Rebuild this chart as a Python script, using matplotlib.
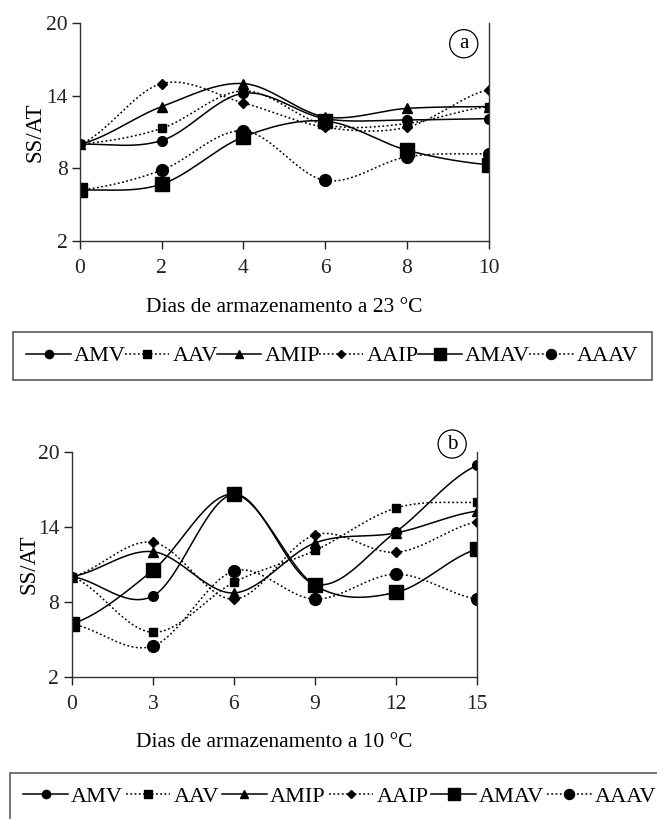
import numpy as np
import matplotlib
matplotlib.use("Agg")
import matplotlib.pyplot as plt
from matplotlib.lines import Line2D

plt.rcParams['font.family'] = ['Liberation Serif', 'DejaVu Serif']

series_names = ["AMV", "AAV", "AMIP", "AAIP", "AMAV", "AAAV"]

days_a = [0, 2, 4, 6, 8, 10]
amv_a = [10.0, 10.3, 14.2, 12.1, 12.0, 12.1]
aav_a = [10.0, 11.3, 14.4, 11.6, 11.7, 13.1]
amip_a = [10.0, 13.1, 15.0, 12.25, 12.95, 13.1]
aaip_a = [10.0, 15.0, 13.4, 11.4, 11.4, 14.5]
amav_a = [6.2, 6.7, 10.6, 11.9, 9.5, 8.3]
aaav_a = [6.2, 7.85, 11.1, 7.0, 8.95, 9.2]

days_b = [0, 3, 6, 9, 12, 15]
amv_b = [10.0, 8.45, 16.6, 9.4, 13.6, 18.9]
aav_b = [10.0, 5.55, 9.55, 12.1, 15.5, 15.95]
amip_b = [10.0, 12.0, 8.7, 12.7, 13.5, 15.25]
aaip_b = [10.0, 12.75, 8.2, 13.35, 11.95, 14.4]
amav_b = [6.2, 10.5, 16.6, 9.3, 8.75, 12.2]
aaav_b = [6.2, 4.45, 10.45, 8.2, 10.2, 8.2]

yticks = [2, 8, 14, 20]

styles = {
    "AMV": dict(ls='-', marker='o', ms=7),
    "AAV": dict(ls=(0, (1.2, 1.6)), marker='s', ms=6),
    "AMIP": dict(ls='-', marker='^', ms=7),
    "AAIP": dict(ls=(0, (1.2, 1.6)), marker='D', ms=5),
    "AMAV": dict(ls='-', marker='s', ms=9.5),
    "AAAV": dict(ls=(0, (1.2, 1.6)), marker='o', ms=8.5),
}


def smooth(x, y, n=30):
    x = np.asarray(x, float)
    y = np.asarray(y, float)
    px = np.concatenate([[2 * x[0] - x[1]], x, [2 * x[-1] - x[-2]]])
    py = np.concatenate([[y[0]], y, [y[-1]]])
    xs, ys = [], []
    for i in range(1, len(px) - 2):
        t = np.linspace(0, 1, n)
        for arr, out in ((px, xs), (py, ys)):
            p0, p1, p2, p3 = arr[i - 1], arr[i], arr[i + 1], arr[i + 2]
            c1 = p1 + (p2 - p0) / 6
            c2 = p2 - (p3 - p1) / 6
            out.append((1 - t) ** 3 * p1 + 3 * (1 - t) ** 2 * t * c1
                       + 3 * (1 - t) * t ** 2 * c2 + t ** 3 * p2)
    return np.concatenate(xs), np.concatenate(ys)


fig = plt.figure(figsize=(6.57, 8.19), dpi=100)


def panel(rect, days, data, xlabel, tag, tagpos, ylab_x):
    ax = fig.add_axes(rect)
    for name, vals in zip(series_names, data):
        st = styles[name]
        sx, sy = smooth(days, vals)
        ax.plot(sx, sy, color='black', lw=1.1, ls=st['ls'])
        ax.plot(days, vals, ls='none', marker=st['marker'], ms=st['ms'],
                color='black', mec='black')
    ax.set_xlim(days[0], days[-1])
    ax.set_ylim(2, 20)
    ax.set_xticks(days)
    ax.set_yticks(yticks)
    ax.spines['top'].set_visible(False)
    for s in ('left', 'bottom', 'right'):
        ax.spines[s].set_linewidth(1.0)
        ax.spines[s].set_color('#333333')
    ax.tick_params(axis='both', direction='out', length=6, width=1.0,
                   labelsize=15.5, colors='#222222')
    ax.tick_params(axis='x', pad=7)
    ax.tick_params(axis='y', pad=3)
    ax.set_ylabel("SS/AT", fontsize=16.5)
    ax.yaxis.set_label_coords(ylab_x, 0.5)
    ax.set_xlabel(xlabel, fontsize=15.5, labelpad=14)
    ax.text(tagpos[0], tagpos[1], tag, transform=ax.transAxes, fontsize=15,
            ha='center', va='center',
            bbox=dict(boxstyle='circle,pad=0.22', fc='white', ec='black', lw=0.9))
    return ax


panel([0.1218, 0.7057, 0.622, 0.2662], days_a,
      [amv_a, aav_a, amip_a, aaip_a, amav_a, aaav_a],
      "Dias de armazenamento a 23 °C", "a", (0.939, 0.905), -0.085)
panel([0.1091, 0.1738, 0.6174, 0.2747], days_b,
      [amv_b, aav_b, amip_b, aaip_b, amav_b, aaav_b],
      "Dias de armazenamento a 10 °C", "b", (0.938, 1.034), -0.08)

handles = []
for name in series_names:
    st = styles[name]
    ms = st['ms'] * 0.85
    handles.append(Line2D([], [], color='black', lw=1.1, ls=st['ls'],
                          marker=st['marker'], ms=ms))


def legend(y0, h, x0, w):
    leg = fig.legend(handles, series_names, loc='center',
                     bbox_to_anchor=(x0, y0, w, h), ncol=6, fontsize=16,
                     frameon=True, fancybox=False, edgecolor='#333333',
                     handlelength=2.0, handletextpad=0.15, columnspacing=0.1,
                     borderpad=0.6, mode='expand', borderaxespad=0)
    leg.get_frame().set_linewidth(1.2)
    return leg


legend(1 - 381 / 819, 50 / 819, 13 / 657, 639 / 657)
legend(1 - 819 / 819, 45 / 819, 10 / 657, 660 / 657)

fig.savefig("out.png", dpi=100)
